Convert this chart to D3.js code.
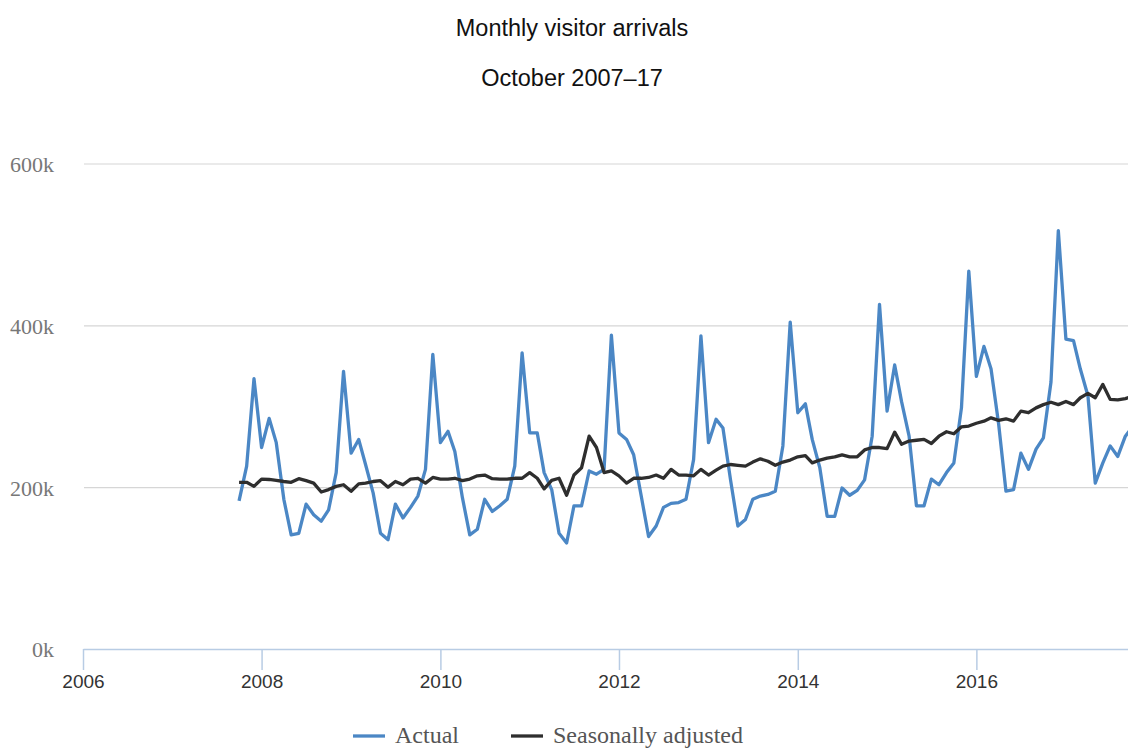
<!DOCTYPE html>
<html>
<head>
<meta charset="utf-8">
<script src="https://cdn.jsdelivr.net/npm/d3@7/dist/d3.min.js"></script>
<style>
  body { margin: 0; background: #fff; }
  svg { display: block; }
  .title { font-family: "Liberation Sans", Arial, sans-serif; fill: #111; }
  .y.axis text { font-family: "Liberation Serif", "Times New Roman", serif; fill: #777; }
  .x.axis text { font-family: "Liberation Sans", Arial, sans-serif; fill: #333; }
  .legend text { font-family: "Liberation Serif", "Times New Roman", serif; fill: #555; }
  .line { fill: none; stroke-width: 3.3; stroke-linejoin: round; }
</style>
</head>
<body>
<div id="chart"></div>
<script>
// Monthly visitor arrivals, one value per month starting October 2007 (thousands)
const START_YEAR = 2007;
const START_MONTH = 9; // October, zero based

const ACTUAL = [
    183, 226, 334,
    249, 285, 255, 185, 141, 143, 179, 166, 158, 172, 218, 343,
    242, 259, 228, 193, 143, 135, 179, 162, 175, 189, 222, 364,
    255, 269, 244, 187, 141, 148, 185, 170, 177, 185, 226, 366,
    267, 267, 218, 197, 143, 131, 177, 177, 220, 216, 222, 388,
    267, 259, 240, 189, 139, 152, 175, 180, 181, 185, 234, 387,
    255, 284, 273, 209, 152, 160, 185, 189, 191, 195, 251, 404,
    292, 303, 259, 224, 164, 164, 199, 190, 196, 209, 263, 426,
    294, 351, 306, 263, 177, 177, 210, 203, 218, 230, 298, 467,
    337, 374, 346, 278, 195, 197, 242, 222, 247, 261, 330, 517,
    383, 381, 346, 313, 205, 230, 251, 238, 263, 275
];

const ADJUSTED = [
    206, 206, 201,
    210, 209.5, 208.5, 207, 206, 210.5, 208, 205, 194, 197, 201, 203,
    195, 204, 205, 207, 208, 200, 207, 203, 210, 211, 205, 212,
    210, 210, 211, 208, 210, 214, 215, 210.5, 210, 210, 211, 211,
    218, 211, 198, 208.5, 211, 190, 215, 224, 263, 249, 218, 220,
    214, 205, 211, 211, 212, 215, 211, 222, 215, 215, 214, 222,
    215, 221, 226, 228, 227, 226, 231, 235, 232, 227, 231, 233.5,
    237.5, 239, 230, 233.5, 236, 237.5, 240, 237.5, 237.5, 246, 249, 249,
    247.6, 268, 253, 257, 258, 259, 254, 263, 268.5, 266, 274.6, 275.5,
    279, 281.6, 285.7, 282.5, 284.5, 281.6, 294, 292, 298, 302, 305, 302,
    306, 302, 310.5, 316, 310.5, 327, 308.5, 308, 309.5, 312
];

const Y_TICKS = [0, 200, 400, 600];
const X_TICK_YEARS = [2006, 2008, 2010, 2012, 2014, 2016];

const SERIES = [
    { name: "Actual", values: ACTUAL, color: "#4b87c5" },
    { name: "Seasonally adjusted", values: ADJUSTED, color: "#2e2e2e" }
];

const width = 1128;
const height = 749;
const plot = { left: 83, right: 1128, top: 163.5, bottom: 649 };
const pxPerYear = 89.35;

const toDate = i => new Date(START_YEAR, START_MONTH + i, 1);

let svg = d3.select("#chart")
    .append("svg")
    .attr("width", width)
    .attr("height", height);

const xScale = d3.scaleTime()
    .domain([new Date(2006, 0, 1), new Date(2018, 0, 1)])
    .range([plot.left, plot.left + 12 * pxPerYear]);

const yScale = d3.scaleLinear()
    .domain([0, 600])
    .range([plot.bottom, plot.top]);

// Titles
svg.append("text")
    .attr("class", "title")
    .attr("x", 572)
    .attr("y", 36)
    .attr("text-anchor", "middle")
    .style("font-size", "23.5px")
    .text("Monthly visitor arrivals");

svg.append("text")
    .attr("class", "title")
    .attr("x", 572)
    .attr("y", 86)
    .attr("text-anchor", "middle")
    .style("font-size", "23.5px")
    .text("October 2007\u201317");

// Y axis with gridlines
let yAxis = svg.append("g")
    .attr("class", "y axis")
    .attr("transform", `translate(${plot.left + 1}, 0)`)
    .call(d3.axisLeft(yScale)
        .tickValues(Y_TICKS)
        .tickSize(-(plot.right - plot.left))
        .tickPadding(30)
        .tickFormat(d => d + "k"));

yAxis.select(".domain").remove();
yAxis.selectAll(".tick line")
    .attr("stroke", "#d6d6d6")
    .attr("stroke-width", 1.2)
    .attr("visibility", d => d === 0 ? "hidden" : "visible");
yAxis.selectAll(".tick text")
    .attr("dy", "0.36em")
    .style("font-size", "22px");

// Lines
const lineGenerator = d3.line()
    .x((d, i) => xScale(toDate(i)))
    .y(d => yScale(d));

const lineGroup = svg.append("g")
    .attr("class", "line-group");

lineGroup.selectAll("path")
    .data(SERIES)
  .enter().append("path")
    .attr("class", "line")
    .attr("stroke", d => d.color)
    .attr("d", d => lineGenerator(d.values));

// X axis
let xAxis = svg.append("g")
    .attr("class", "x axis")
    .attr("transform", `translate(0, ${plot.bottom})`)
    .call(d3.axisBottom(xScale)
        .tickValues(X_TICK_YEARS.map(y => new Date(y, 0, 1)))
        .tickSize(21)
        .tickSizeOuter(0)
        .tickPadding(5)
        .tickFormat(d3.timeFormat("%Y")));

xAxis.select(".domain")
    .attr("stroke", "#b8cce4")
    .attr("stroke-width", 1.5);
xAxis.selectAll(".tick line")
    .attr("stroke", "#b8cce4")
    .attr("stroke-width", 1.5);
xAxis.selectAll(".tick text")
    .style("font-size", "19px");

// Legend (kept just inside the bottom edge)
const legendX = [353, 511];
const legend = svg.append("g")
    .attr("class", "legend")
    .attr("transform", "translate(0, 736)");

const item = legend.selectAll("g")
    .data(SERIES)
  .enter().append("g")
    .attr("transform", (d, i) => `translate(${legendX[i]}, 0)`);

item.append("line")
    .attr("x1", 0)
    .attr("x2", 32)
    .attr("stroke", d => d.color)
    .attr("stroke-width", 3.3);

item.append("text")
    .attr("x", 42)
    .attr("y", 7)
    .style("font-size", "24px")
    .text(d => d.name);
</script>
</body>
</html>
